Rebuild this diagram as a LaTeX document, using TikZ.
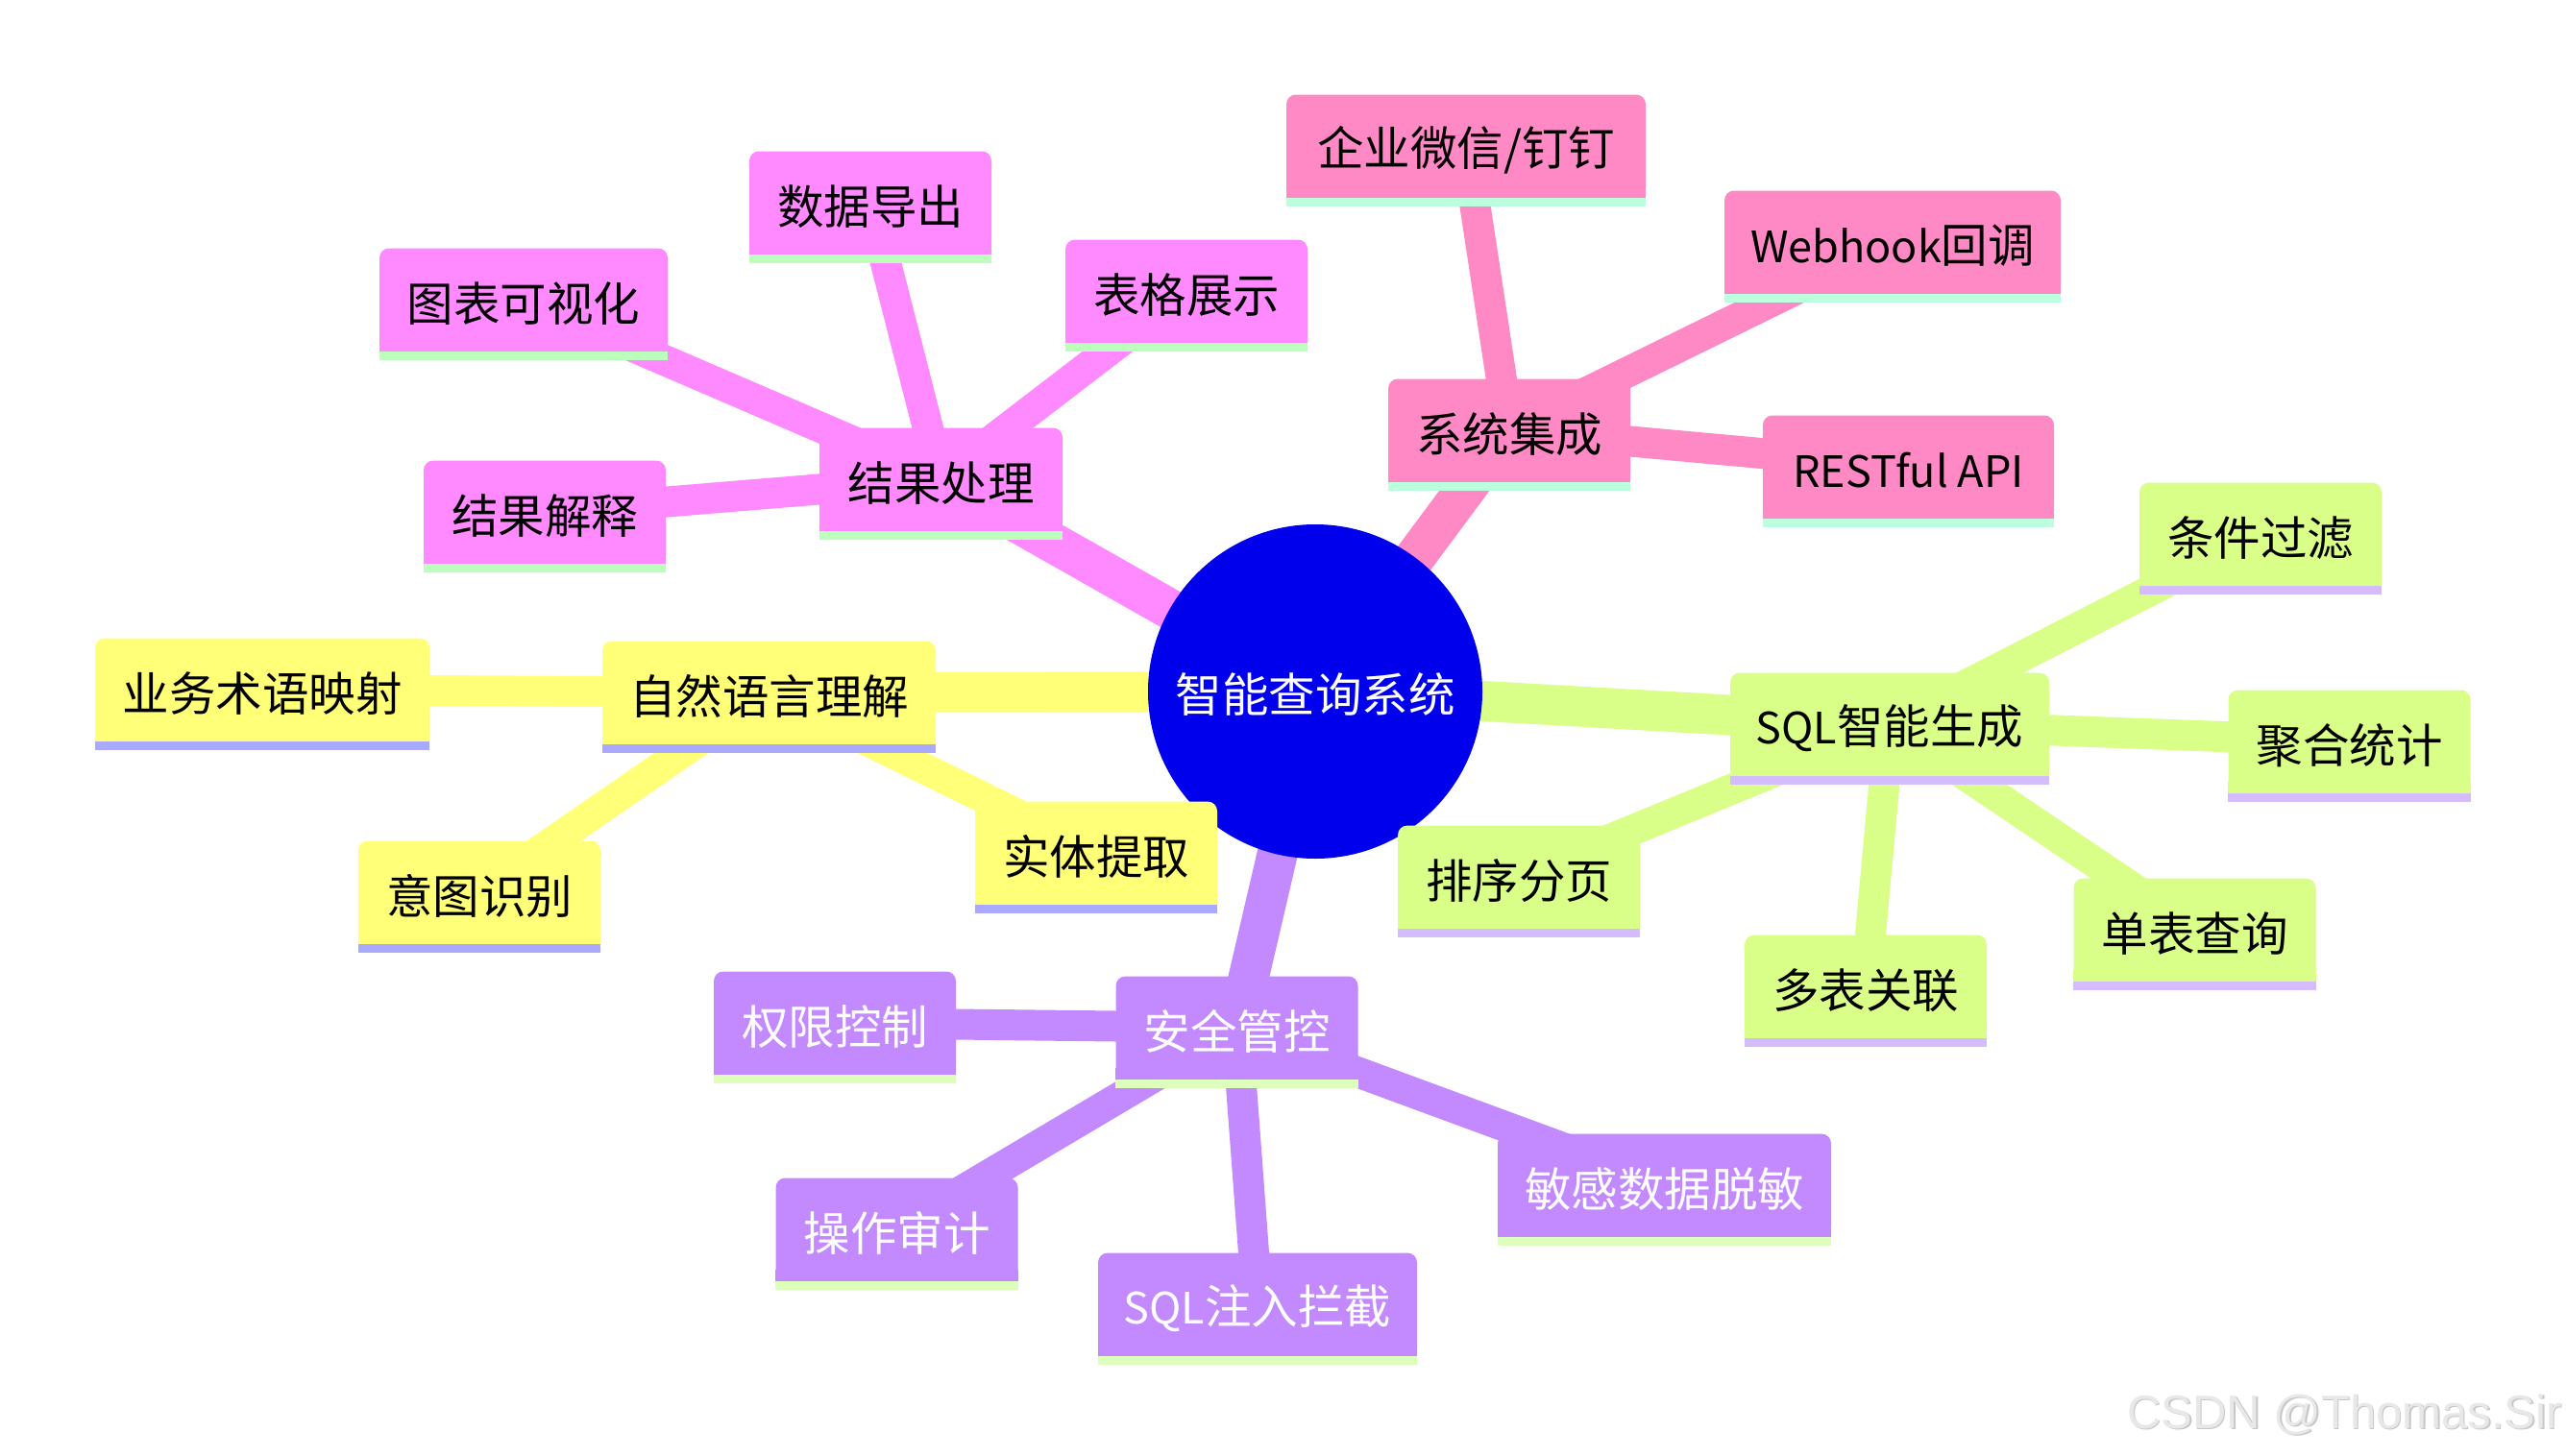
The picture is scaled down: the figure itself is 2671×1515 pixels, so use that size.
\documentclass[tikz,border=0pt]{standalone}
\usepackage{fontspec}
\setmainfont{Noto Sans CJK SC}
\newfontfamily\wmfont{Liberation Sans}
\usetikzlibrary{backgrounds}
\definecolor{rootc}{HTML}{0000EC}
\definecolor{ylw}{HTML}{FFFF78}
\definecolor{ylwu}{HTML}{A9A9FF}
\definecolor{grn}{HTML}{DAFF89}
\definecolor{grnu}{HTML}{D4BCFF}
\definecolor{prp}{HTML}{C389FF}
\definecolor{prpu}{HTML}{DEFFBC}
\definecolor{mag}{HTML}{FF89FF}
\definecolor{magu}{HTML}{BCFFBC}
\definecolor{pnk}{HTML}{FF89C4}
\definecolor{pnku}{HTML}{BCFFDE}
\newcommand\latpart[1]{{\fontsize{45}{58}\selectfont #1}}
\newcommand\mmnode[8]{%
  \node[mmbox, fill=#5, minimum width=#4pt] (#1) at (#2,#3) {};
  \fill[#5] ([yshift=12pt]#1.south west) rectangle (#1.south east);
  \fill[#6] (#1.south west) rectangle ([yshift=-9pt]#1.south east);
  \node[mmtext, text=#7] (#1t) at ([yshift=-4pt]#1.center) {#8};
}
\begin{document}
\begin{tikzpicture}[x=1pt,y=-1pt,
  mmbox/.style={rectangle, rounded corners=10pt, inner sep=0pt, minimum height=107pt},
  mmtext/.style={inner sep=0pt, font=\fontsize{48.5}{58}\selectfont},
  eone/.style={line width=42pt},
  etwo/.style={line width=32pt}]
\useasboundingbox (0,0) rectangle (2671,1515);

\node[circle, fill=rootc, minimum size=348pt, inner sep=0pt] (root) at (1369,720) {};
\node[mmtext, text=white] (roott) at ([yshift=-3pt]root.center) {智能查询系统};

% 结果处理
\mmnode{n1}{979.5}{499}{253}{mag}{magu}{black}{结果处理}
\mmnode{n11}{545}{312}{300}{mag}{magu}{black}{图表可视化}
\mmnode{n12}{906}{211}{252}{mag}{magu}{black}{数据导出}
\mmnode{n13}{1235}{303}{252}{mag}{magu}{black}{表格展示}
\mmnode{n14}{567}{533}{252}{mag}{magu}{black}{结果解释}
% 系统集成
\mmnode{n2}{1571}{448}{252}{pnk}{pnku}{black}{系统集成}
\mmnode{n21}{1526}{152}{374}{pnk}{pnku}{black}{企业微信/钉钉}
\mmnode{n22}{1970}{252}{350}{pnk}{pnku}{black}{\latpart{Webhook}回调}
\mmnode{n23}{1986.5}{486}{303}{pnk}{pnku}{black}{\latpart{RESTful API}}
% SQL智能生成
\mmnode{n3}{1967}{754}{332}{grn}{grnu}{black}{\latpart{SQL}智能生成}
\mmnode{n31}{2353}{556}{252}{grn}{grnu}{black}{条件过滤}
\mmnode{n32}{2445.5}{772}{252}{grn}{grnu}{black}{聚合统计}
\mmnode{n33}{2284.5}{968}{252}{grn}{grnu}{black}{单表查询}
\mmnode{n34}{1942}{1027}{252}{grn}{grnu}{black}{多表关联}
\mmnode{n35}{1581}{913}{252}{grn}{grnu}{black}{排序分页}
% 自然语言理解
\mmnode{n4}{800.5}{721}{347}{ylw}{ylwu}{black}{自然语言理解}
\mmnode{n41}{273}{718}{348}{ylw}{ylwu}{black}{业务术语映射}
\mmnode{n42}{499}{929}{252}{ylw}{ylwu}{black}{意图识别}
\mmnode{n43}{1141}{888}{252}{ylw}{ylwu}{black}{实体提取}
% 安全管控
\mmnode{n5}{1287.5}{1070}{252}{prp}{prpu}{white}{安全管控}
\mmnode{n51}{869}{1065}{252}{prp}{prpu}{white}{权限控制}
\mmnode{n52}{933.5}{1280}{252}{prp}{prpu}{white}{操作审计}
\mmnode{n53}{1309}{1358}{332}{prp}{prpu}{white}{\latpart{SQL}注入拦截}
\mmnode{n54}{1732.5}{1234}{347}{prp}{prpu}{white}{敏感数据脱敏}

\begin{scope}[on background layer]
  \fill[white] (0,0) rectangle (2671,1515);
  \draw[eone, mag] (root.center) -- (n1.center);
  \draw[eone, pnk] (root.center) -- (n2.center);
  \draw[eone, grn] (root.center) -- (n3.center);
  \draw[eone, ylw] (root.center) -- (n4.center);
  \draw[eone, prp] (root.center) -- (n5.center);
  \foreach \c in {n11,n12,n13,n14} \draw[etwo, mag] (n1.center) -- (\c.center);
  \foreach \c in {n21,n22,n23} \draw[etwo, pnk] (n2.center) -- (\c.center);
  \foreach \c in {n31,n32,n33,n34,n35} \draw[etwo, grn] (n3.center) -- (\c.center);
  \foreach \c in {n41,n42,n43} \draw[etwo, ylw] (n4.center) -- (\c.center);
  \foreach \c in {n51,n52,n53,n54} \draw[etwo, prp] (n5.center) -- (\c.center);
\end{scope}

\node[anchor=base east, inner sep=0pt, text=black!22, font=\wmfont\fontsize{49}{58}\selectfont] at (2668.5,1488.5) {CSDN @Thomas.Sir};
\node[anchor=base east, inner sep=0pt, text=black!9, font=\wmfont\fontsize{49}{58}\selectfont] (wm) at (2667,1487) {CSDN @Thomas.Sir};
\end{tikzpicture}
\end{document}
